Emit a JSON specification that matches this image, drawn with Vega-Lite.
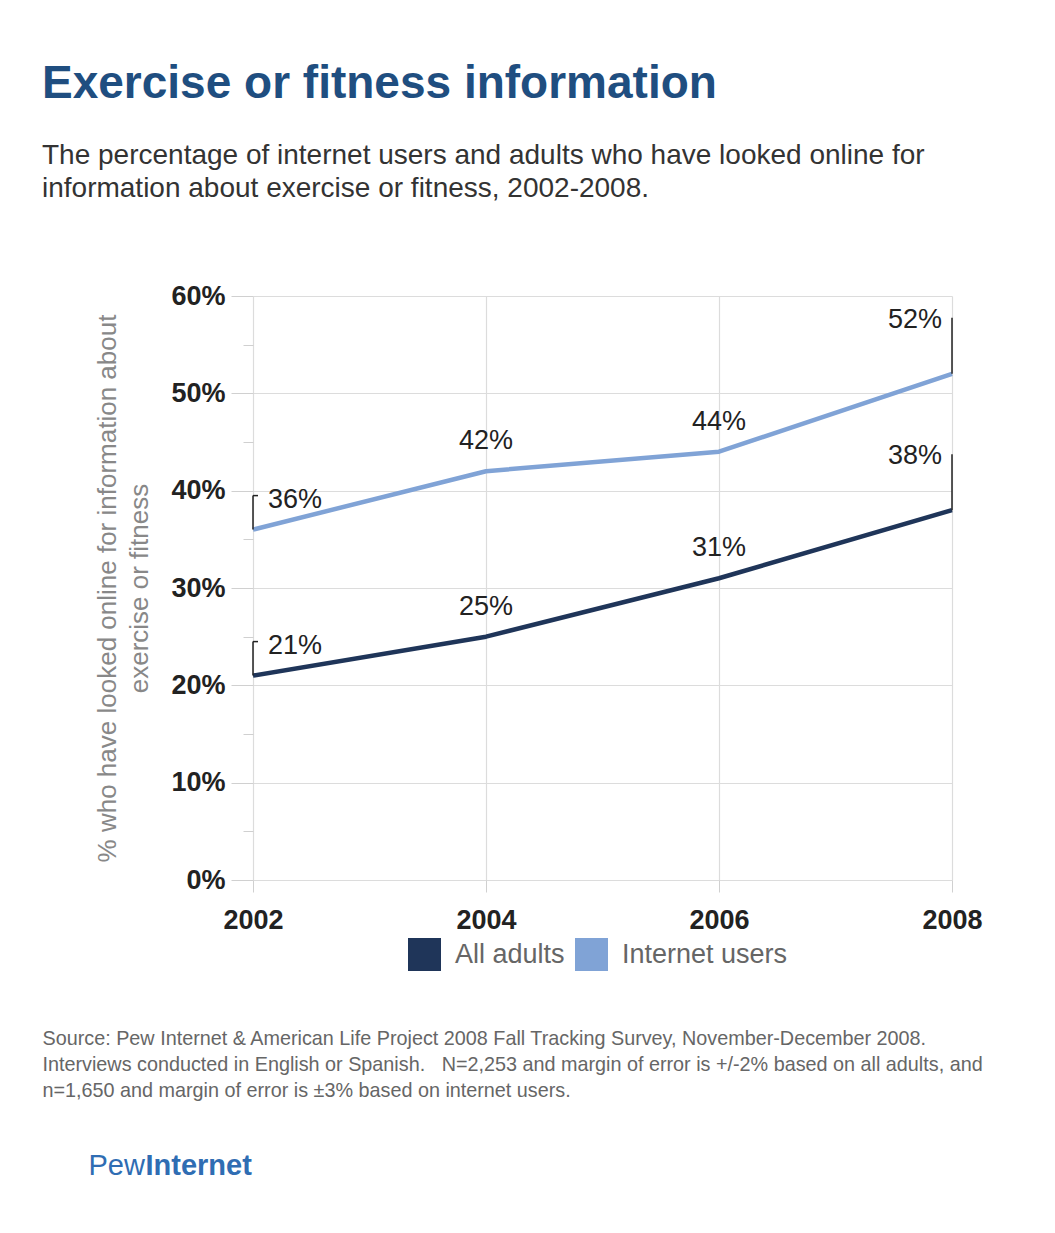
{
  "$schema": "https://vega.github.io/schema/vega-lite/v6.json",
  "width": 699,
  "height": 584,
  "autosize": {"type": "none"},
  "padding": {"left": 253, "top": 296, "right": 103, "bottom": 353},
  "background": "white",
  "config": {"view": {"stroke": null}, "font": "Liberation Sans"},
  "title": {
    "text": "Exercise or fitness information",
    "subtitle": ["The percentage of internet users and adults who have looked online for", "information about exercise or fitness, 2002-2008."],
    "anchor": "start",
    "frame": "group",
    "dx": -211,
    "offset": 78,
    "font": "Liberation Sans",
    "fontSize": 46,
    "fontWeight": "bold",
    "color": "#1f4e80",
    "subtitleFont": "Liberation Sans",
    "subtitleFontSize": 28,
    "subtitleColor": "#333333",
    "subtitlePadding": 34,
    "subtitleLineHeight": 33
  },
  "data": {
    "values": [
      {"year": 2002, "series": "All adults", "pct": 21, "label": "21%"},
      {"year": 2004, "series": "All adults", "pct": 25, "label": "25%"},
      {"year": 2006, "series": "All adults", "pct": 31, "label": "31%"},
      {"year": 2008, "series": "All adults", "pct": 38, "label": "38%"},
      {"year": 2002, "series": "Internet users", "pct": 36, "label": "36%"},
      {"year": 2004, "series": "Internet users", "pct": 42, "label": "42%"},
      {"year": 2006, "series": "Internet users", "pct": 44, "label": "44%"},
      {"year": 2008, "series": "Internet users", "pct": 52, "label": "52%"}
    ]
  },
  "resolve": {"axis": {"x": "independent", "y": "independent"}},
  "layer": [
    {
      "mark": {"type": "line", "strokeWidth": 4.5, "interpolate": "linear", "strokeJoin": "round"},
      "encoding": {
        "x": {
          "field": "year", "type": "quantitative",
          "scale": {"domain": [2002, 2008], "nice": false, "zero": false},
          "axis": {
            "orient": "bottom",
            "values": [2002, 2004, 2006, 2008],
            "format": "d",
            "grid": true, "gridColor": "#dcdcdc", "gridWidth": 1.2,
            "domain": false,
            "ticks": true, "tickSize": 12, "tickColor": "#d0d0d0",
            "labelFont": "Liberation Sans", "labelFontSize": 27, "labelFontWeight": "bold", "labelColor": "#222222",
            "labelPadding": 15, "labelFlush": false, "labelOverlap": false,
            "title": ["Source:  Pew Internet & American Life Project 2008 Fall Tracking Survey, November-December 2008.", "Interviews conducted in English or Spanish.\u00a0\u00a0 N=2,253 and margin of error is +/-2% based on all adults, and", "n=1,650 and margin of error is ±3% based on internet users."],
            "titleX": -211, "titleY": 148,
            "titleAlign": "left", "titleAnchor": "start", "titleBaseline": "top", "titleAngle": 0,
            "titleFont": "Liberation Sans", "titleFontSize": 19.8, "titleFontWeight": "normal",
            "titleColor": "#666666", "titleLineHeight": 26
          }
        },
        "y": {
          "field": "pct", "type": "quantitative",
          "scale": {"domain": [0, 60], "nice": false},
          "axis": {
            "orient": "left",
            "values": [0, 5, 10, 15, 20, 25, 30, 35, 40, 45, 50, 55, 60],
            "labelExpr": "datum.value % 10 == 0 ? datum.value + '%' : ''",
            "grid": true, "gridColor": "#dcdcdc", "gridWidth": 1.2,
            "gridOpacity": {"condition": {"test": "datum.value % 10 == 0", "value": 1}, "value": 0},
            "domain": false,
            "tickColor": "#d0d0d0",
            "tickSize": {"condition": {"test": "datum.value % 10 == 0", "value": 22}, "value": 10},
            "labelFont": "Liberation Sans", "labelFontSize": 27, "labelFontWeight": "bold", "labelColor": "#222222",
            "labelPadding": 6, "labelFlush": false, "labelOverlap": false,
            "title": ["% who have looked online for information about", "exercise or fitness"],
            "titleFont": "Liberation Sans", "titleFontSize": 26, "titleFontWeight": "normal",
            "titleColor": "#888888", "titleLineHeight": 32, "titlePadding": 18
          }
        },
        "color": {
          "field": "series", "type": "nominal",
          "scale": {"domain": ["All adults", "Internet users"], "range": ["#1f3559", "#80a3d6"]},
          "legend": {
            "orient": "none", "legendX": 155, "legendY": 642,
            "direction": "horizontal", "title": null,
            "symbolType": "square", "symbolSize": 1089, "symbolStrokeWidth": 0,
            "labelFont": "Liberation Sans", "labelFontSize": 27, "labelColor": "#666666",
            "labelOffset": 14, "columnPadding": 10, "labelLimit": 400,
            "encode": {"symbols": {"update": {"fill": {"scale": "color", "field": "value"}, "stroke": {"value": "transparent"}, "opacity": {"value": 1}}}}
          }
        }
      }
    },
    {
      "transform": [{"filter": "datum.year == 2004 || datum.year == 2006"}],
      "mark": {"type": "text", "dy": -30, "fontSize": 27, "color": "#222222", "align": "center", "baseline": "middle", "font": "Liberation Sans"},
      "encoding": {
        "x": {
          "field": "year", "type": "quantitative",
          "axis": {
            "orient": "top", "labels": false, "ticks": false, "domain": false, "grid": false,
            "title": "Pew", "titleX": -165, "titleY": 878, "titleAlign": "left", "titleAnchor": "start",
            "titleBaseline": "alphabetic", "titleAngle": 0, "titleFont": "Liberation Sans",
            "titleFontSize": 29, "titleFontWeight": "normal", "titleColor": "#2f6db3"
          }
        },
        "y": {
          "field": "pct", "type": "quantitative",
          "axis": {
            "orient": "right", "labels": false, "ticks": false, "domain": false, "grid": false,
            "title": "Internet", "titleX": -807, "titleY": 878, "titleAlign": "left", "titleAnchor": "start",
            "titleBaseline": "alphabetic", "titleAngle": 0, "titleFont": "Liberation Sans",
            "titleFontSize": 29, "titleFontWeight": "bold", "titleColor": "#2f6db3"
          }
        },
        "text": {"field": "label"}
      }
    },
    {
      "transform": [{"filter": "datum.year == 2002"}],
      "mark": {"type": "text", "dx": 15, "dy": -30, "fontSize": 27, "color": "#222222", "align": "left", "baseline": "middle", "font": "Liberation Sans"},
      "encoding": {
        "x": {"field": "year", "type": "quantitative", "axis": null},
        "y": {"field": "pct", "type": "quantitative", "axis": null},
        "text": {"field": "label"}
      }
    },
    {
      "transform": [{"filter": "datum.year == 2008"}],
      "mark": {"type": "text", "dx": -10, "dy": -54, "fontSize": 27, "color": "#222222", "align": "right", "baseline": "middle", "font": "Liberation Sans"},
      "encoding": {
        "x": {"field": "year", "type": "quantitative", "axis": null},
        "y": {"field": "pct", "type": "quantitative", "axis": null},
        "text": {"field": "label"}
      }
    },
    {
      "transform": [{"filter": "datum.year == 2002"}],
      "mark": {"type": "rule", "y2Offset": -34, "color": "#222222", "strokeWidth": 1.5},
      "encoding": {
        "x": {"field": "year", "type": "quantitative", "axis": null},
        "y": {"field": "pct", "type": "quantitative", "axis": null},
        "y2": {"field": "pct"}
      }
    },
    {
      "transform": [{"filter": "datum.year == 2002"}],
      "mark": {"type": "rule", "x2Offset": 5, "yOffset": -34, "color": "#222222", "strokeWidth": 1.5},
      "encoding": {
        "x": {"field": "year", "type": "quantitative", "axis": null},
        "x2": {"field": "year"},
        "y": {"field": "pct", "type": "quantitative", "axis": null}
      }
    },
    {
      "transform": [{"filter": "datum.year == 2008"}],
      "mark": {"type": "rule", "y2Offset": -56, "color": "#222222", "strokeWidth": 1.5},
      "encoding": {
        "x": {"field": "year", "type": "quantitative", "axis": null},
        "y": {"field": "pct", "type": "quantitative", "axis": null},
        "y2": {"field": "pct"}
      }
    }
  ]
}
